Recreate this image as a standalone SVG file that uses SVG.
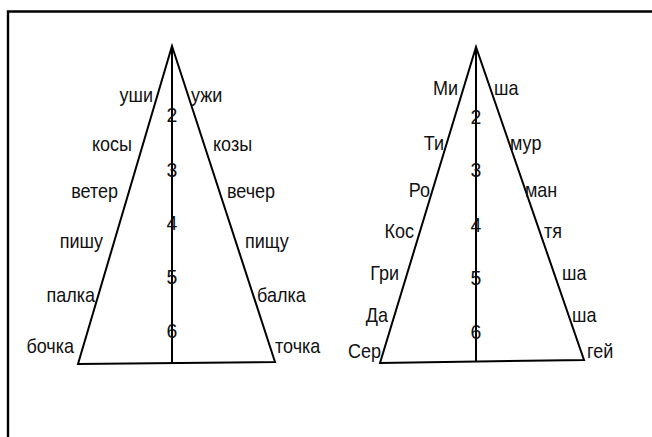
<svg xmlns="http://www.w3.org/2000/svg" width="652" height="437" viewBox="0 0 652 437">
<style>
.ln{stroke:#000;stroke-width:2;fill:none;stroke-linejoin:miter}
.fr{stroke:#000;stroke-width:2.4;fill:none}
text{font-family:"Liberation Sans",Arial,sans-serif;font-size:20px;fill:#111}
.l{text-anchor:end}
.r{text-anchor:start}
.n{text-anchor:middle;font-size:19.5px}
</style>
<rect width="652" height="437" fill="#fff"/>
<path class="fr" d="M8,437 V11.5 H652"/>
<g id="pyramid-left">
<path class="ln" d="M172,46 L78,364 L275,362 Z"/>
<path class="ln" d="M172,46 V363"/>
<text class="n" x="172" y="122">2</text>
<text class="n" x="172" y="177">3</text>
<text class="n" x="172" y="230">4</text>
<text class="n" x="172" y="284">5</text>
<text class="n" x="172" y="338">6</text>
<g transform="scale(0.9,1)">
<text class="l" x="170" y="102">уши</text>
<text class="l" x="146.7" y="151">косы</text>
<text class="l" x="131.1" y="198">ветер</text>
<text class="l" x="114.4" y="248">пишу</text>
<text class="l" x="105.6" y="302">палка</text>
<text class="l" x="82.2" y="353">бочка</text>
<text class="r" x="212.2" y="102">ужи</text>
<text class="r" x="236.7" y="151">козы</text>
<text class="r" x="252.2" y="198">вечер</text>
<text class="r" x="272.2" y="248">пищу</text>
<text class="r" x="285.6" y="302">балка</text>
<text class="r" x="305.6" y="353">точка</text>
</g>
</g>
<g id="pyramid-right">
<path class="ln" d="M476,47 L380,363 L584,360 Z"/>
<path class="ln" d="M476,47 V362"/>
<text class="n" x="476" y="124">2</text>
<text class="n" x="476" y="177">3</text>
<text class="n" x="476" y="232">4</text>
<text class="n" x="476" y="285">5</text>
<text class="n" x="476" y="339">6</text>
<g transform="scale(0.9,1)">
<text class="l" x="508.9" y="95">Ми</text>
<text class="l" x="493.3" y="150">Ти</text>
<text class="l" x="477.8" y="197">Ро</text>
<text class="l" x="460" y="238">Кос</text>
<text class="l" x="443.3" y="280">Гри</text>
<text class="l" x="431.1" y="322">Да</text>
<text class="l" x="423.3" y="358">Сер</text>
<text class="r" x="548.9" y="95">ша</text>
<text class="r" x="566.7" y="150">мур</text>
<text class="r" x="583.3" y="197">ман</text>
<text class="r" x="604.4" y="238">тя</text>
<text class="r" x="624.4" y="280">ша</text>
<text class="r" x="635.6" y="322">ша</text>
<text class="r" x="652.2" y="358">гей</text>
</g>
</g>
</svg>
